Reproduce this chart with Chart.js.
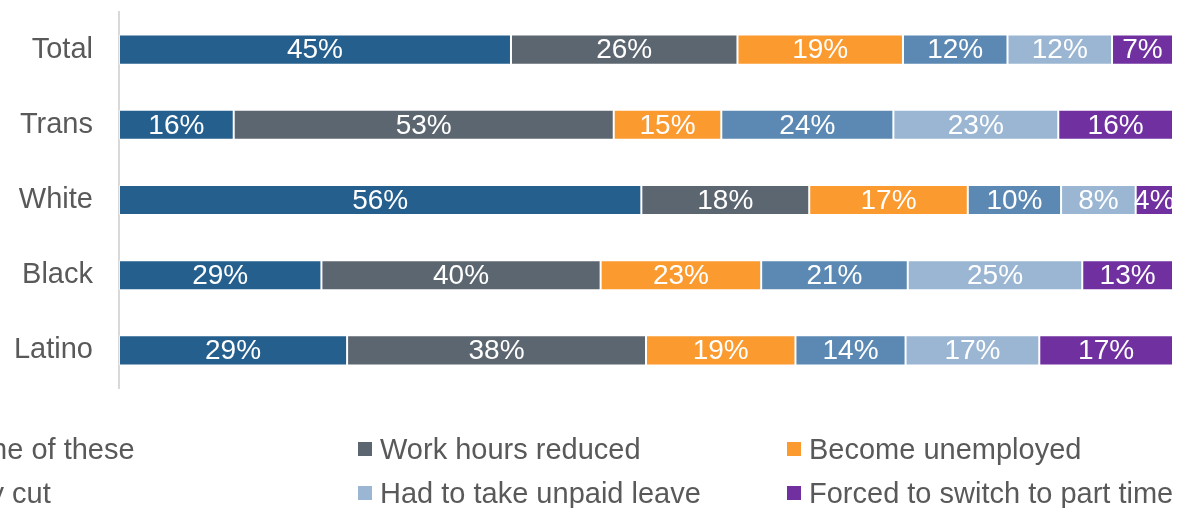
<!DOCTYPE html>
<html>
<head>
<meta charset="utf-8">
<script src="https://cdn.jsdelivr.net/npm/chart.js@4/dist/chart.umd.min.js"></script>
<style>
  html, body { margin: 0; padding: 0; background: #fff; overflow: hidden; }
  #wrap { position: relative; width: 1184px; height: 508px; }
  #c { position: absolute; left: 0; top: 0; }
  .lg { position: absolute; height: 30px; display: flex; align-items: center; white-space: nowrap;
        font-family: "Liberation Sans", Arial, sans-serif; font-size: 29px; color: #595959; }
  .lg i { display: inline-block; width: 14px; height: 14px; margin-right: 8px; }
</style>
</head>
<body>
<div id="wrap">
  <canvas id="c" width="1184" height="508"></canvas>
  <div id="legend"></div>
</div>
<script>
const categories = ["Total", "Trans", "White", "Black", "Latino"];
const seriesNames = ["None of these", "Work hours reduced", "Become unemployed", "Pay cut", "Had to take unpaid leave", "Forced to switch to part time"];
const noneOfThese   = [45, 16, 56, 29, 29];
const hoursReduced  = [26, 53, 18, 40, 38];
const unemployed    = [19, 15, 17, 23, 19];
const payCut        = [12, 24, 10, 21, 14];
const unpaidLeave   = [12, 23, 8, 25, 17];
const partTime      = [7, 16, 4, 13, 17];
const colors = ["#245f8e", "#5c6670", "#fb9a2f", "#5b89b3", "#9bb6d3", "#7030a0"];

const raw = [noneOfThese, hoursReduced, unemployed, payCut, unpaidLeave, partTime];
const totals = categories.map((_, i) => raw.reduce((s, arr) => s + arr[i], 0));

const datasets = raw.map((arr, k) => ({
  label: seriesNames[k],
  data: arr.map((v, i) => v / totals[i] * 100),
  rawValues: arr,
  backgroundColor: colors[k],
  borderColor: "rgba(255,255,255,0.55)",
  borderWidth: 1,
  borderSkipped: false,
  barPercentage: 0.4,
  categoryPercentage: 1.0
}));

const labelPlugin = {
  id: "segLabels",
  afterDatasetsDraw(chart) {
    const ctx = chart.ctx;
    ctx.save();
    ctx.font = '28px "Liberation Sans", Arial, sans-serif';
    ctx.fillStyle = "#ffffff";
    ctx.textAlign = "center";
    ctx.textBaseline = "middle";
    chart.data.datasets.forEach((ds, k) => {
      const meta = chart.getDatasetMeta(k);
      meta.data.forEach((el, i) => {
        const cx = (el.x + el.base) / 2;
        ctx.fillText(ds.rawValues[i] + "%", cx, el.y + 1);
      });
    });
    ctx.restore();
  }
};

new Chart(document.getElementById("c"), {
  type: "bar",
  data: { labels: categories, datasets },
  options: {
    indexAxis: "y",
    responsive: false,
    animation: false,
    layout: { padding: { top: 12, right: 11, bottom: 120, left: 0 } },
    plugins: { legend: { display: false }, tooltip: { enabled: false } },
    scales: {
      x: { stacked: true, min: 0, max: 100, display: false },
      y: {
        stacked: true,
        grid: { display: false, drawTicks: false },
        border: { display: true, color: "#d9d9d9", width: 2 },
        ticks: { color: "#595959", padding: 26, font: { family: '"Liberation Sans", Arial, sans-serif', size: 29 } },
        afterFit(scale) { scale.width = 119; scale.paddingTop = 0; scale.paddingBottom = 0; }
      }
    }
  },
  plugins: [labelPlugin]
});

// HTML legend (columns as in reference; first column runs off the left edge)
const legendPos = [
  { x: -68, y: 434 }, { x: 358, y: 434 }, { x: 787, y: 434 },
  { x: -68, y: 478 }, { x: 358, y: 478 }, { x: 787, y: 478 }
];
const lg = document.getElementById("legend");
seriesNames.forEach((name, k) => {
  const d = document.createElement("div");
  d.className = "lg";
  d.style.left = legendPos[k].x + "px";
  d.style.top = legendPos[k].y + "px";
  const m = document.createElement("i");
  m.style.background = colors[k];
  d.appendChild(m);
  d.appendChild(document.createTextNode(name));
  lg.appendChild(d);
});
</script>
</body>
</html>
